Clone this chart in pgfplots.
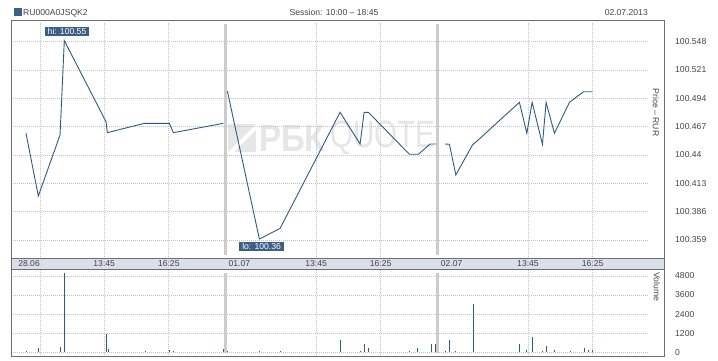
\documentclass[border=0pt]{standalone}
\usepackage{fontspec}
\setmainfont{Liberation Sans}
\usepackage{pgfplots}
\pgfplotsset{compat=1.18}
\definecolor{lineblue}{HTML}{2F5A88}
\definecolor{boxblue}{HTML}{3B5F86}
\definecolor{framegray}{HTML}{6E6E6E}
\definecolor{gridgray}{HTML}{C4C4C4}
\definecolor{sepgray}{HTML}{CCCCCC}
\definecolor{bandfill}{HTML}{D9E0E7}
\definecolor{txtgray}{HTML}{444444}
\definecolor{wm}{HTML}{E6E6E6}
\newcommand{\sm}{\fontsize{8.6}{10}\selectfont}
\pgfplotsset{
  chartbase/.style={
    scale only axis, width=653pt, xmin=-6, xmax=1612,
    axis line style={framegray, line width=0.8pt},
    major tick length=0pt, minor tick num=0,
    ticklabel style={font=\sm, text=txtgray},
    yticklabel pos=right,
    yticklabel style={anchor=west, inner sep=0pt, xshift=11pt},
  },
}
\tikzset{
  gridline/.style={gridgray, line width=0.7pt, dash pattern=on 1pt off 1pt},
  sepline/.style={sepgray, line width=3pt},
}
\begin{document}
\begin{tikzpicture}[x=1pt,y=1pt]
\path (0,0) rectangle (718,-360);
% header
\fill[boxblue] (14,-8.3) rectangle (21.7,-15.7);
\node[anchor=base west, inner sep=0pt, font=\sm, text=txtgray] at (23,-15.5) {RU000A0JSQK2};
\node[anchor=base, inner sep=0pt, font=\sm, text=txtgray] at (334,-15.5) {Session: 10:00 – 18:45};
\node[anchor=base east, inner sep=0pt, font=\sm, text=txtgray] at (648,-15.5) {02.07.2013};
% watermark
\fill[wm] (228,-124) rectangle (256,-152);
\fill[white] (228,-152) -- (256,-124) -- (256,-130) -- (234,-152) -- cycle;
\node[anchor=west, inner sep=0pt, text=wm, font=\fontsize{38}{40}\selectfont\bfseries, xscale=0.87] at (259,-138) {РБК};
\node[anchor=west, inner sep=0pt, text=wm, font=\fontsize{38}{40}\selectfont, xscale=0.78] at (330,-138) {QUOTE};
% band
\fill[bandfill] (11,-258) rectangle (664,-269);
\draw[framegray, line width=0.8pt] (11,-258) -- (11,-269) (664,-258) -- (664,-269);
% main price axis
\begin{axis}[chartbase,
  at={(11pt,-20pt)}, anchor=north west, height=238pt,
  ymin=100.3418, ymax=100.5687,
  ytick={100.359,100.386,100.413,100.44,100.467,100.494,100.521,100.548},
  yticklabels={100.359,100.386,100.413,100.44,100.467,100.494,100.521,100.548},
  xtick={38.7,225,385,560,750,910,1086,1275,1435},
  xticklabels={28.06,13:45,16:25,01.07,13:45,16:25,02.07,13:45,16:25},
  xticklabel style={anchor=center, inner sep=0pt, yshift=-6pt},
  clip=false,
]
\pgfplotsinvokeforeach{100.359,100.386,100.413,100.44,100.467,100.494,100.521,100.548}{
  \draw[gridline] (axis cs:-1,#1) -- (axis cs:1573,#1);
}
\pgfplotsinvokeforeach{66,225,385,750,910,1275,1435}{
  \draw[gridline] (axis cs:#1,100.3425) -- (axis cs:#1,100.566);
}
\draw[sepline] (axis cs:525,100.3447) -- (axis cs:525,100.5649);
\draw[sepline] (axis cs:1050,100.3447) -- (axis cs:1050,100.5649);
\addplot[lineblue, line width=0.9pt] coordinates {
(31.2,100.4607) (61.7,100.4009) (115.5,100.4591) (126.1,100.549) (229.5,100.4717)
(232.7,100.4613) (324.4,100.4702) (386.4,100.4702) (396.3,100.4613) (520.2,100.4702)};
\addplot[lineblue, line width=0.9pt] coordinates {
(530.1,100.501) (609.4,100.3599) (660.7,100.370) (809.4,100.4807) (859,100.4505)
(868.9,100.4807) (879.5,100.4807) (981.2,100.4407) (1003.5,100.4407) (1032.5,100.4505) (1047.3,100.4505)};
\addplot[lineblue, line width=0.9pt] coordinates {
(1069.6,100.4505) (1080.3,100.4502) (1096.2,100.421) (1137.3,100.4495) (1156.3,100.4559)
(1210.2,100.475) (1253.8,100.4902) (1272.1,100.4607) (1285.3,100.4902) (1310.8,100.4502)
(1319.9,100.4902) (1340.5,100.4607) (1377.7,100.4902) (1412.4,100.5003) (1434.7,100.5003)};
\node[fill=boxblue, text=white, font=\sm, inner xsep=3pt, inner ysep=1.5pt, anchor=south, xshift=2.7pt, yshift=4.5pt] at (axis cs:126.1,100.549) {hi: 100.55};
\node[fill=boxblue, text=white, font=\sm, inner xsep=3pt, inner ysep=1.5pt, anchor=north, xshift=2.2pt, yshift=-2.5pt] at (axis cs:609.4,100.3599) {lo: 100.36};
\node[rotate=-90, font=\sm, text=txtgray, inner sep=0pt] at (rel axis cs:0.9876,0.6118) {Price – RUR};
\end{axis}
% volume axis
\begin{axis}[chartbase,
  at={(11pt,-269pt)}, anchor=north west, height=87pt,
  ymin=-232, ymax=5233,
  ytick={0,1200,2400,3600,4800},
  yticklabels={0,1200,2400,3600,4800},
  xtick=\empty,
  clip=false,
]
\pgfplotsinvokeforeach{0,1200,2400,3600,4800}{
  \draw[gridline] (axis cs:-1,#1) -- (axis cs:1573,#1);
}
\pgfplotsinvokeforeach{66,225,385,750,910,1275,1435}{
  \draw[gridline] (axis cs:#1,-200) -- (axis cs:#1,5200);
}
\draw[sepline] (axis cs:525,-50) -- (axis cs:525,5000);
\draw[sepline] (axis cs:1050,-50) -- (axis cs:1050,5000);
\addplot[ycomb, lineblue, line width=1pt, mark=none] coordinates {
(33.0,100) (62.7,290) (116.2,350) (126.1,5000) (230.2,1170) (235.2,230)
(326.9,80) (386.4,145) (396.3,80) (520.2,210) (530.1,80) (609.4,80) (661.5,80)
(810.2,770) (860.7,80) (869.6,520) (879.6,270) (982.2,80) (1002.0,270)
(1035.7,520) (1045.6,520) (1070.4,80) (1080.3,770) (1095.2,80) (1139.8,3030)
(1253.8,520) (1272.1,150) (1286.0,960) (1310.8,80) (1320.7,400) (1340.5,150)
(1380.2,80) (1414.9,270) (1424.8,150) (1434.7,150)};
\node[rotate=-90, font=\sm, text=txtgray, inner sep=0pt] at (rel axis cs:0.9893,0.793) {Volume};
\end{axis}
\end{tikzpicture}
\end{document}
